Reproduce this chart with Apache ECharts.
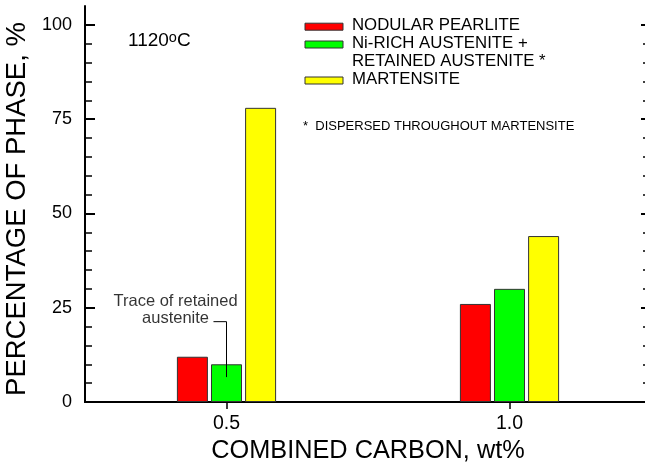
<!DOCTYPE html>
<html>
<head>
<meta charset="utf-8">
<script src="https://cdn.jsdelivr.net/npm/echarts@6/dist/echarts.min.js"></script>
<style>
  html, body { margin: 0; padding: 0; background: #fff; }
  #chart { width: 645px; height: 466px; }
</style>
</head>
<body>
<div id="chart"></div>
<script>
// Phase fractions at 1120 °C for two combined-carbon levels
const carbonContent = [0.5, 1.0];
const phaseNames = ['NODULAR PEARLITE', 'Ni-RICH AUSTENITE +\nRETAINED AUSTENITE *', 'MARTENSITE'];
const nodularPearlite = [12, 26];
const niRichAustenite = [10, 30];
const martensite = [78, 44];
const percentTicks = [0, 25, 50, 75, 100];
const percentMinorTicks = [5, 10, 15, 20, 30, 35, 40, 45, 55, 60, 65, 70, 80, 85, 90, 95];
const carbonTicks = [0.5, 1.0];

const phaseValues = [nodularPearlite, niRichAustenite, martensite];
const phaseColors = ['#ff0000', '#00ff00', '#ffff00'];
const FONT = '"Liberation Sans", Arial, Helvetica, sans-serif';
const INK = '#000';

const chart = echarts.init(document.getElementById('chart'), null, { renderer: 'canvas' });

function percentAxis(position, ticks, len, width, extra) {
  return Object.assign({
    type: 'value', position: position, min: 0, max: 105,
    splitLine: { show: false },
    axisLine: { show: false },
    axisLabel: { show: false },
    axisTick: {
      show: true, inside: true, length: len, customValues: ticks,
      lineStyle: { color: INK, width: width }
    }
  }, extra || {});
}

const barSeries = phaseValues.map((vals, i) => ({
  type: 'bar',
  name: phaseNames[i],
  xAxisIndex: 0, yAxisIndex: 0,
  data: carbonContent.map((c, k) => [c, vals[k]]),
  barWidth: 31,
  barGap: '10%',
  itemStyle: { color: phaseColors[i], borderColor: '#333', borderWidth: 1 },
  z: 2
}));

// legend rows: swatch + label
const legendRows = [25.7, 43.5, 79.5];
const legendGraphics = [];
phaseNames.forEach((name, i) => {
  legendGraphics.push({
    type: 'rect', x: 305, y: legendRows[i] - 2.5,
    shape: { width: 38, height: 7 },
    style: { fill: phaseColors[i], stroke: '#333', lineWidth: 1 }
  });
  legendGraphics.push({
    type: 'text', x: 352, y: legendRows[i] - 9.5,
    style: { text: name, font: '16.8px ' + FONT, fill: INK, lineHeight: 18.5, verticalAlign: 'top', align: 'left' }
  });
});

chart.setOption({
  animation: false,
  backgroundColor: '#fff',
  textStyle: { fontFamily: FONT, color: INK },
  grid: { left: 85, width: 566, top: 6, bottom: 64, containLabel: false, outerBoundsMode: 'none' },
  xAxis: [
    {
      type: 'value', position: 'bottom', min: 0.25, max: 1.25,
      splitLine: { show: false },
      axisLine: { show: true, lineStyle: { color: INK, width: 2 } },
      axisTick: { show: true, inside: false, length: 7, customValues: carbonTicks, lineStyle: { color: INK, width: 1.5 } },
      axisLabel: { show: true, customValues: carbonTicks, formatter: v => Number(v).toFixed(1),
                   fontSize: 19.5, color: INK, margin: 12, fontFamily: FONT },
      name: 'COMBINED CARBON, wt%', nameLocation: 'middle', nameGap: 36,
      nameTextStyle: { fontSize: 25.3, color: INK, fontFamily: FONT }
    },
    {
      type: 'value', position: 'top', min: 0.25, max: 1.25,
      splitLine: { show: false },
      axisLine: { show: true, lineStyle: { color: INK, width: 2 } },
      axisTick: { show: false }, axisLabel: { show: false }
    }
  ],
  yAxis: [
    percentAxis('left', percentTicks, 10, 2, {
      axisLine: { show: true, lineStyle: { color: INK, width: 2 } },
      axisLabel: { show: true, customValues: percentTicks, fontSize: 18, color: INK, margin: 13, fontFamily: FONT },
      name: 'PERCENTAGE OF PHASE, %', nameLocation: 'middle', nameGap: 47,
      nameTextStyle: { fontSize: 27.5, color: INK, fontFamily: FONT, padding: [0, 10, 0, 0] }
    }),
    percentAxis('left', percentMinorTicks, 7, 1.5),
    percentAxis('right', percentTicks, 10, 2),
    percentAxis('right', percentMinorTicks, 8, 1.5)
  ],
  graphic: legendGraphics.concat([
    {
      type: 'text', x: 303, y: 126.7,
      style: { text: '*  DISPERSED THROUGHOUT MARTENSITE', font: '13px ' + FONT, fill: INK, verticalAlign: 'middle' }
    },
    {
      type: 'text', x: 128, y: 41,
      style: {
        text: '{n|1120}{s|o}{n|C}', verticalAlign: 'middle', fill: INK,
        rich: {
          n: { fontSize: 19, fontFamily: FONT, fill: INK, lineHeight: 21 },
          s: { fontSize: 14.5, fontFamily: FONT, fill: INK, verticalAlign: 'top', lineHeight: 21 }
        }
      }
    }
  ]),
  series: barSeries.concat([
    {
      type: 'line', name: 'trace leader', xAxisIndex: 0, yAxisIndex: 0,
      data: [[0.477, 21.3], [0.5, 21.3], [0.5, 6.6]],
      symbol: 'none', silent: true, z: 5,
      lineStyle: { color: INK, width: 1 }
    },
    {
      type: 'scatter', name: 'trace note', xAxisIndex: 0, yAxisIndex: 0,
      data: [[0.41, 24.5]], symbolSize: 1, silent: true, z: 5,
      itemStyle: { color: 'rgba(0,0,0,0)' },
      label: {
        show: true, position: 'inside', formatter: 'Trace of retained\naustenite',
        fontSize: 16.5, lineHeight: 17, color: INK, align: 'center', fontFamily: FONT
      }
    }
  ])
});
</script>
</body>
</html>
